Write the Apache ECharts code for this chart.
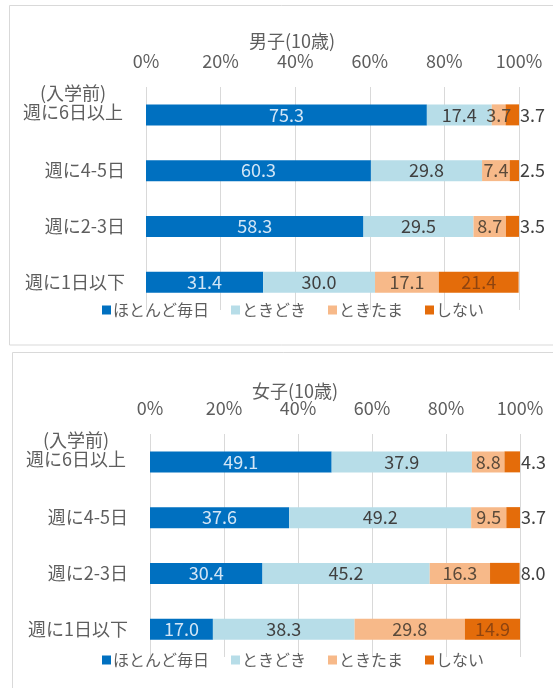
<!DOCTYPE html>
<html>
<head>
<meta charset="utf-8">
<script src="https://cdn.jsdelivr.net/npm/echarts@6/dist/echarts.min.js"></script>
<style>
html,body{margin:0;padding:0;background:#fff;}
#chart{width:553px;height:688px;}
</style>
</head>
<body>
<div id="chart"></div>
<script>
// ---- data ----
const categories = ['(入学前)\n週に6日以上', '週に4-5日', '週に2-3日', '週に1日以下'];
const seriesNames = ['ほとんど毎日', 'ときどき', 'ときたま', 'しない'];
const tickLabels = ['0%', '20%', '40%', '60%', '80%', '100%'];
const panelTitles = ['男子(10歳)', '女子(10歳)'];

const boysMostly    = [75.3, 60.3, 58.3, 31.4];
const boysSometimes = [17.4, 29.8, 29.5, 30.0];
const boysOccasion  = [3.7, 7.4, 8.7, 17.1];
const boysNever     = [3.7, 2.5, 3.5, 21.4];

const girlsMostly    = [49.1, 37.6, 30.4, 17.0];
const girlsSometimes = [37.9, 49.2, 45.2, 38.3];
const girlsOccasion  = [8.8, 9.5, 16.3, 29.8];
const girlsNever     = [4.3, 3.7, 8.0, 14.9];

const panels = [
  [boysMostly, boysSometimes, boysOccasion, boysNever],
  [girlsMostly, girlsSometimes, girlsOccasion, girlsNever]
];

// ---- style ----
const FONT = '"Noto Sans CJK JP", "Noto Sans", sans-serif';
const colors = ['#0070C0', '#B7DDE8', '#F7B989', '#E46C0A'];
const labelColors = ['#D3E6F6', '#404040', '#5A4A3A', '#8E4410'];
const textGray = '#5E5E5E';

const gridDefs = [
  { left: 146, right: 34, top: 87, height: 223 },
  { left: 150, right: 33, top: 434, height: 223 }
];
const titleTops = [27, 377];
const titleLefts = [287, 290];
const legendTops = [297, 647];

const series = [];
panels.forEach((panel, p) => {
  panel.forEach((vals, s) => {
    series.push({
      type: 'bar',
      name: seriesNames[s],
      stack: 'p' + p,
      xAxisIndex: p,
      yAxisIndex: p,
      barWidth: 21,
      itemStyle: { color: colors[s] },
      label: {
        show: true,
        position: 'inside',
        fontSize: 18,
        fontFamily: FONT,
        color: labelColors[s],
        formatter: (d) => Number(d.value).toFixed(1)
      },
      data: vals.map(v => {
        if (s === 3 && v < 10) {
          return { value: v, label: { position: 'right', distance: 1, color: '#404040' } };
        }
        return v;
      })
    });
  });
});

const option = {
  backgroundColor: '#fff',
  animation: false,
  textStyle: { fontFamily: FONT },
  graphic: [
    { type: 'rect', shape: { x: 9.5, y: 5.5, width: 600, height: 339.5 }, style: { fill: 'none', stroke: '#D9D9D9', lineWidth: 1 }, silent: true },
    { type: 'rect', shape: { x: 12.5, y: 352.5, width: 600, height: 400 }, style: { fill: 'none', stroke: '#D9D9D9', lineWidth: 1 }, silent: true }
  ],
  title: panelTitles.map((t, i) => ({
    text: t,
    left: titleLefts[i],
    top: titleTops[i],
    textAlign: 'center',
    textStyle: { fontSize: 18, fontWeight: 'normal', color: textGray, fontFamily: FONT }
  })),
  legend: [0, 1].map(i => ({
    data: seriesNames,
    left: 97,
    top: legendTops[i],
    itemWidth: 9,
    itemHeight: 9,
    itemGap: 22,
    icon: 'rect',
    selectedMode: false,
    textStyle: { fontSize: 16, color: textGray, fontFamily: FONT, padding: [0, 0, 0, -3] }
  })),
  grid: gridDefs.map(g => Object.assign({ containLabel: false }, g)),
  xAxis: [0, 1].map(i => ({
    type: 'value',
    gridIndex: i,
    position: 'top',
    min: 0,
    max: 100,
    interval: 20,
    axisLine: { show: false },
    axisTick: { show: false },
    splitLine: { show: true, lineStyle: { color: '#D9D9D9', width: 1 } },
    axisLabel: {
      fontSize: 18,
      color: textGray,
      fontFamily: FONT,
      margin: 17,
      formatter: (v, idx) => tickLabels[idx]
    }
  })),
  yAxis: [0, 1].map(i => ({
    type: 'category',
    gridIndex: i,
    data: categories,
    inverse: true,
    axisLine: { show: false },
    axisTick: { show: false },
    splitLine: { show: false },
    axisLabel: {
      fontSize: 18,
      color: textGray,
      fontFamily: FONT,
      margin: i === 0 ? 21 : 22,
      formatter: (v) => {
        if (v.indexOf('\n') >= 0) {
          const parts = v.split('\n');
          return parts.map(l => '{c|' + l + '}').join('\n') + '\n{e| }';
        }
        return v;
      },
      rich: {
        c: { fontSize: 18, color: textGray, fontFamily: FONT, lineHeight: 19, width: 104, align: 'center' },
        e: { fontSize: 10, lineHeight: 24 }
      }
    }
  })),
  series: series
};

const chart = echarts.init(document.getElementById('chart'), null, { renderer: 'canvas' });
chart.setOption(option);
</script>
</body>
</html>
